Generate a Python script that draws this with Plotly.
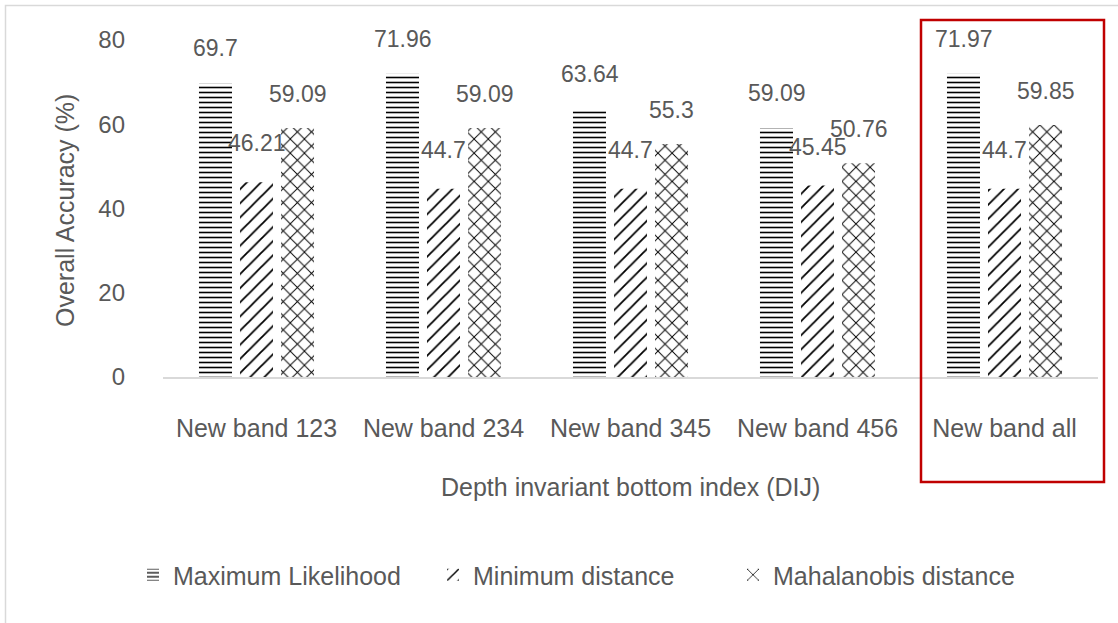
import plotly.graph_objects as go

# Classification accuracy per depth-invariant band combination
categories = ["New band 123", "New band 234", "New band 345", "New band 456", "New band all"]
max_likelihood = [69.7, 71.96, 63.64, 59.09, 71.97]
min_distance = [46.21, 44.7, 44.7, 45.45, 44.7]
mahalanobis = [59.09, 59.09, 55.3, 50.76, 59.85]
y_ticks = [0, 20, 40, 60, 80]

FONT = "Liberation Sans, Arial, sans-serif"
GREY = "#595959"
W, H = 1118, 623
L, R, T, B = 163, 20, 40, 246

series = [
    ("Maximum Likelihood", max_likelihood, "-", 5, 0.32, -41, 35),
    ("Minimum distance", min_distance, "/", 10, 0.18, 0, 39),
    ("Mahalanobis distance", mahalanobis, "x", 10, 0.18, 41, 34),
]

fig = go.Figure()
annotations = []
for name, vals, shape, size, solidity, dx, dy in series:
    fig.add_trace(go.Bar(
        name=name, x=categories, y=vals,
        marker=dict(
            color="white",
            line=dict(width=0),
            pattern=dict(shape=shape, size=size, solidity=solidity,
                         fgcolor="black", bgcolor="white", fillmode="replace"),
        ),
        hoverinfo="x+y+name",
    ))
    for c, v in zip(categories, vals):
        annotations.append(dict(
            x=c, y=v, xref="x", yref="y", text=f"{v:g}", showarrow=False,
            xshift=dx, yshift=dy, yanchor="middle",
            font=dict(family=FONT, size=23, color=GREY),
        ))

pw = W - L - R
ph = H - T - B

def px_x(px):
    return (px - L) / pw

def px_y(py):
    return (H - B - py) / ph

# axis titles
annotations.append(dict(
    x=px_x(65), y=px_y(211), xref="paper", yref="paper", text="Overall Accuracy (%)",
    textangle=-90, showarrow=False, xanchor="center", yanchor="middle",
    font=dict(family=FONT, size=25, color=GREY),
))
annotations.append(dict(
    x=px_x(630), y=px_y(487), xref="paper", yref="paper",
    text="Depth invariant bottom index (DIJ)", showarrow=False,
    xanchor="center", yanchor="middle",
    font=dict(family=FONT, size=25, color=GREY),
))

shapes = [
    # chart frame
    dict(type="rect", xref="paper", yref="paper",
         x0=px_x(5.5), y0=px_y(700), x1=px_x(1200), y1=px_y(5.5),
         line=dict(color="#d9d9d9", width=1.5), fillcolor="rgba(0,0,0,0)", layer="below"),
    # highlight box around the last group
    dict(type="rect", xref="paper", yref="paper",
         x0=px_x(921), y0=px_y(482), x1=px_x(1104), y1=px_y(20),
         line=dict(color="#c00000", width=2.5), fillcolor="rgba(0,0,0,0)"),
]

fig.update_layout(
    width=W, height=H,
    margin=dict(l=L, r=R, t=T, b=B, autoexpand=False),
    paper_bgcolor="white", plot_bgcolor="white",
    barmode="group", bargap=0.342, bargroupgap=0.195,
    font=dict(family=FONT, size=23, color=GREY),
    showlegend=True,
    legend=dict(orientation="h", x=px_x(583), y=px_y(575), xanchor="center", yanchor="middle",
                font=dict(family=FONT, size=25, color=GREY), itemsizing="constant",
                entrywidth=255, entrywidthmode="pixels",
                traceorder="normal", bgcolor="rgba(0,0,0,0)"),
    annotations=annotations,
    shapes=shapes,
    xaxis=dict(showline=True, linecolor="#d9d9d9", linewidth=1.5, showgrid=False,
               ticks="", ticklabelstandoff=28, tickfont=dict(family=FONT, size=25, color=GREY),
               fixedrange=True),
    yaxis=dict(range=[0, 80], tickvals=y_ticks, showgrid=False, showline=False, zeroline=False,
               ticks="", ticklabelstandoff=37, tickfont=dict(family=FONT, size=24, color=GREY),
               fixedrange=True),
)

fig.write_html("out.html")
